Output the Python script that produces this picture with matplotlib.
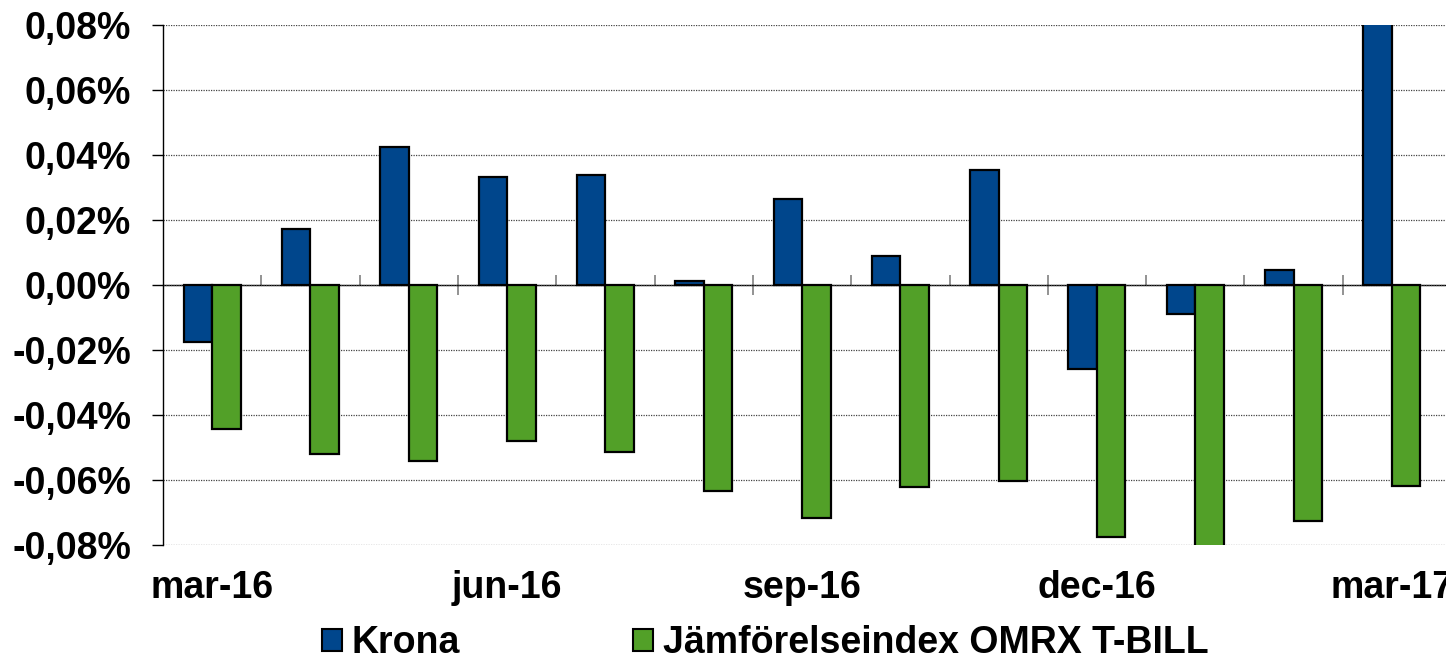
"""
Monthly return: Krona vs Jämförelseindex OMRX T-BILL, mar-16 .. mar-17.
"""

import matplotlib

matplotlib.use("Agg")

import matplotlib.pyplot as plt
import numpy as np
from matplotlib.patches import Patch

MONTHS = [
    "mar-16", "apr-16", "maj-16", "jun-16", "jul-16", "aug-16", "sep-16",
    "okt-16", "nov-16", "dec-16", "jan-17", "feb-17", "mar-17",
]
LABELED_MONTHS = ["mar-16", "jun-16", "sep-16", "dec-16", "mar-17"]

# values in percent
KRONA = [-0.0175, 0.0172, 0.0425, 0.0332, 0.0338, 0.0012, 0.0265,
         0.0089, 0.0354, -0.0258, -0.0089, 0.0046, 0.0950]
OMRX = [-0.0443, -0.0520, -0.0542, -0.0480, -0.0514, -0.0634, -0.0717,
        -0.0622, -0.0603, -0.0775, -0.0830, -0.0726, -0.0618]

SERIES_NAMES = ["Krona", "Jämförelseindex OMRX T-BILL"]
COLORS = ["#00468C", "#52A028"]
Y_TICKS = [-0.08, -0.06, -0.04, -0.02, 0.0, 0.02, 0.04, 0.06, 0.08]

FONT = "Liberation Sans"
FS = 27


def fmt_pct(v: float) -> str:
    return f"{v:.2f}%".replace(".", ",")


def main() -> None:
    plt.rcParams["font.family"] = [FONT, "DejaVu Sans"]
    plt.rcParams["font.weight"] = "bold"

    fig = plt.figure(figsize=(14.46, 6.61), dpi=100)
    ax = fig.add_axes([163 / 1446, 116 / 661, 1 - 163 / 1446, 520 / 661])

    x = np.arange(len(MONTHS))
    width = 0.29
    ax.bar(x - width / 2, KRONA, width, color=COLORS[0], edgecolor="black",
           linewidth=1.6, zorder=3)
    ax.bar(x + width / 2, OMRX, width, color=COLORS[1], edgecolor="black",
           linewidth=1.6, zorder=3)

    ax.set_xlim(-0.5, len(MONTHS) - 0.45)
    ax.set_ylim(-0.08, 0.08)

    ax.set_yticks(Y_TICKS)
    ax.set_yticklabels([fmt_pct(v) for v in Y_TICKS], fontsize=FS, fontweight="bold")
    ax.tick_params(axis="y", direction="out", length=8, width=1, pad=15, color="black")
    ax.yaxis.grid(True, linestyle=(0, (1, 1)), color="#444444", linewidth=0.9, zorder=0)

    # month labels at the bottom
    ax.set_xticks([MONTHS.index(m) for m in LABELED_MONTHS])
    ax.set_xticklabels(LABELED_MONTHS, fontsize=FS, fontweight="bold")
    ax.tick_params(axis="x", length=0, pad=18)

    for side in ["top", "right", "bottom"]:
        ax.spines[side].set_visible(False)
    ax.spines["left"].set_linewidth(1.0)

    # zero line with category ticks
    zero = ax.secondary_xaxis(0.5)
    boundaries = np.arange(0.5, len(MONTHS) - 0.5, 1.0)
    quarter = boundaries[2::3]
    zero.set_xticks(quarter)
    zero.set_xticks(boundaries, minor=True)
    zero.set_xticklabels([])
    zero.tick_params(axis="x", which="major", direction="inout", length=14,
                     width=1.2, color="#808080")
    zero.tick_params(axis="x", which="minor", direction="out", length=7,
                     width=1.2, color="#808080")
    for sp in zero.spines.values():
        sp.set_linewidth(1.0)
        sp.set_color("black")

    handles = [Patch(facecolor=c, edgecolor="black", linewidth=1.5) for c in COLORS]
    fig.legend(handles, SERIES_NAMES, loc="center", bbox_to_anchor=(0.529, 0.027),
               ncol=2, frameon=False, prop={"family": FONT, "weight": "bold", "size": FS},
               handlelength=0.55, handleheight=0.55, handletextpad=0.25,
               columnspacing=4.6, borderpad=0)

    fig.savefig("out.png", dpi=100)
    plt.close(fig)


if __name__ == "__main__":
    main()
